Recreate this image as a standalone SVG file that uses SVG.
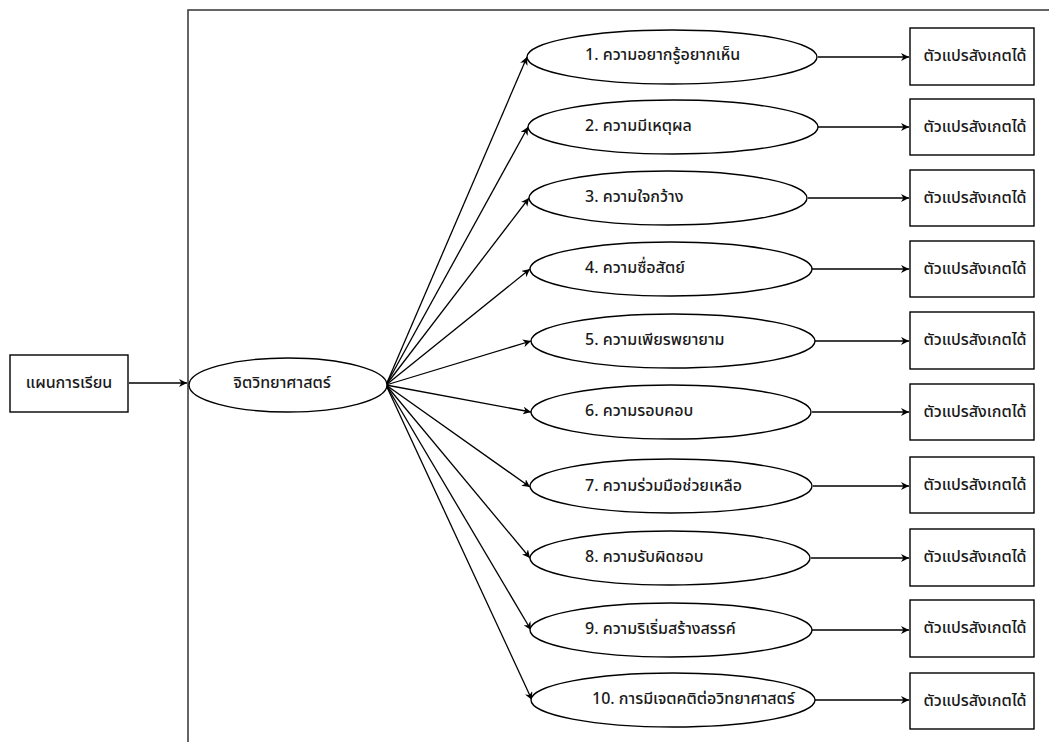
<svg xmlns="http://www.w3.org/2000/svg" width="1049" height="742" viewBox="0 0 1049 742">
<style>
.shape{fill:#fff;stroke:#000;stroke-width:1.4}
.frame{fill:none;stroke:#333;stroke-width:1.5}
.con{fill:none;stroke:#000;stroke-width:1.3;marker-end:url(#ah)}
text{font-family:"Noto Sans Thai","Noto Sans","Liberation Sans",sans-serif;font-size:16px;font-weight:500;fill:#1a1a1a;dominant-baseline:central}
.c{text-anchor:middle}
</style>
<defs>
<marker id="ah" viewBox="0 0 10 10" refX="10" refY="5" markerWidth="8" markerHeight="8" markerUnits="userSpaceOnUse" orient="auto">
<path d="M0,0 L10,5 L0,10 L3,5 Z" fill="#000"/>
</marker>
</defs>
<rect width="1049" height="742" fill="#fff"/>
<path class="frame" d="M188,742 V10 H1049"/>
<g id="connectors">
<line class="con" x1="129" y1="383" x2="187" y2="383"/>
<line class="con" x1="386" y1="385" x2="527" y2="57"/>
<line class="con" x1="386" y1="385" x2="528" y2="127"/>
<line class="con" x1="386" y1="385" x2="529" y2="198"/>
<line class="con" x1="386" y1="385" x2="530" y2="269"/>
<line class="con" x1="386" y1="385" x2="531" y2="341"/>
<line class="con" x1="386" y1="385" x2="531" y2="412"/>
<line class="con" x1="386" y1="385" x2="530" y2="487"/>
<line class="con" x1="386" y1="385" x2="530" y2="558"/>
<line class="con" x1="386" y1="385" x2="531" y2="630"/>
<line class="con" x1="386" y1="385" x2="532" y2="700"/>
<line class="con" x1="818" y1="57" x2="909" y2="57"/>
<line class="con" x1="818" y1="127" x2="909" y2="127"/>
<line class="con" x1="808" y1="198" x2="909" y2="198"/>
<line class="con" x1="812" y1="269" x2="909" y2="269"/>
<line class="con" x1="815" y1="341" x2="909" y2="341"/>
<line class="con" x1="812" y1="412" x2="909" y2="412"/>
<line class="con" x1="813" y1="486" x2="909" y2="486"/>
<line class="con" x1="811" y1="558" x2="909" y2="558"/>
<line class="con" x1="812" y1="630" x2="909" y2="630"/>
<line class="con" x1="815" y1="700" x2="909" y2="700"/>
</g>
<g id="plan"><rect class="shape" x="10" y="355" width="118" height="57"/><text class="c" x="69" y="383">แผนการเรียน</text></g>
<g id="science"><ellipse class="shape" cx="288" cy="385" rx="99" ry="27"/><text class="c" x="282" y="383">จิตวิทยาศาสตร์</text></g>
<g id="a1"><ellipse class="shape" cx="672" cy="57" rx="145" ry="27"/><text x="585" y="55">1. ความอยากรู้อยากเห็น</text></g>
<g id="a2"><ellipse class="shape" cx="673" cy="127" rx="145" ry="27"/><text x="585" y="126">2. ความมีเหตุผล</text></g>
<g id="a3"><ellipse class="shape" cx="668" cy="198" rx="139" ry="27"/><text x="585" y="197">3. ความใจกว้าง</text></g>
<g id="a4"><ellipse class="shape" cx="671" cy="269" rx="141" ry="27"/><text x="585" y="268">4. ความซื่อสัตย์</text></g>
<g id="a5"><ellipse class="shape" cx="673" cy="341" rx="142" ry="27"/><text x="585" y="340">5. ความเพียรพยายาม</text></g>
<g id="a6"><ellipse class="shape" cx="671" cy="412" rx="140" ry="27"/><text x="585" y="411">6. ความรอบคอบ</text></g>
<g id="a7"><ellipse class="shape" cx="671" cy="486" rx="141" ry="27"/><text x="585" y="486">7. ความร่วมมือช่วยเหลือ</text></g>
<g id="a8"><ellipse class="shape" cx="670" cy="558" rx="140" ry="27"/><text x="585" y="557">8. ความรับผิดชอบ</text></g>
<g id="a9"><ellipse class="shape" cx="671" cy="630" rx="141" ry="27"/><text x="585" y="629">9. ความริเริ่มสร้างสรรค์</text></g>
<g id="a10"><ellipse class="shape" cx="673" cy="700" rx="142" ry="27"/><text x="592" y="699">10. การมีเจตคติต่อวิทยาศาสตร์</text></g>
<g id="o1"><rect class="shape" x="910" y="28" width="124" height="57"/><text class="c" x="975" y="56">ตัวแปรสังเกตได้</text></g>
<g id="o2"><rect class="shape" x="910" y="99" width="124" height="56"/><text class="c" x="975" y="127">ตัวแปรสังเกตได้</text></g>
<g id="o3"><rect class="shape" x="910" y="170" width="124" height="56"/><text class="c" x="975" y="198">ตัวแปรสังเกตได้</text></g>
<g id="o4"><rect class="shape" x="910" y="241" width="124" height="56"/><text class="c" x="975" y="269">ตัวแปรสังเกตได้</text></g>
<g id="o5"><rect class="shape" x="910" y="312" width="124" height="57"/><text class="c" x="975" y="340">ตัวแปรสังเกตได้</text></g>
<g id="o6"><rect class="shape" x="910" y="384" width="124" height="56"/><text class="c" x="975" y="412">ตัวแปรสังเกตได้</text></g>
<g id="o7"><rect class="shape" x="910" y="457" width="124" height="56"/><text class="c" x="975" y="485">ตัวแปรสังเกตได้</text></g>
<g id="o8"><rect class="shape" x="910" y="529" width="124" height="57"/><text class="c" x="975" y="557">ตัวแปรสังเกตได้</text></g>
<g id="o9"><rect class="shape" x="910" y="600" width="124" height="57"/><text class="c" x="975" y="628">ตัวแปรสังเกตได้</text></g>
<g id="o10"><rect class="shape" x="910" y="673" width="124" height="56"/><text class="c" x="975" y="701">ตัวแปรสังเกตได้</text></g>
</svg>
